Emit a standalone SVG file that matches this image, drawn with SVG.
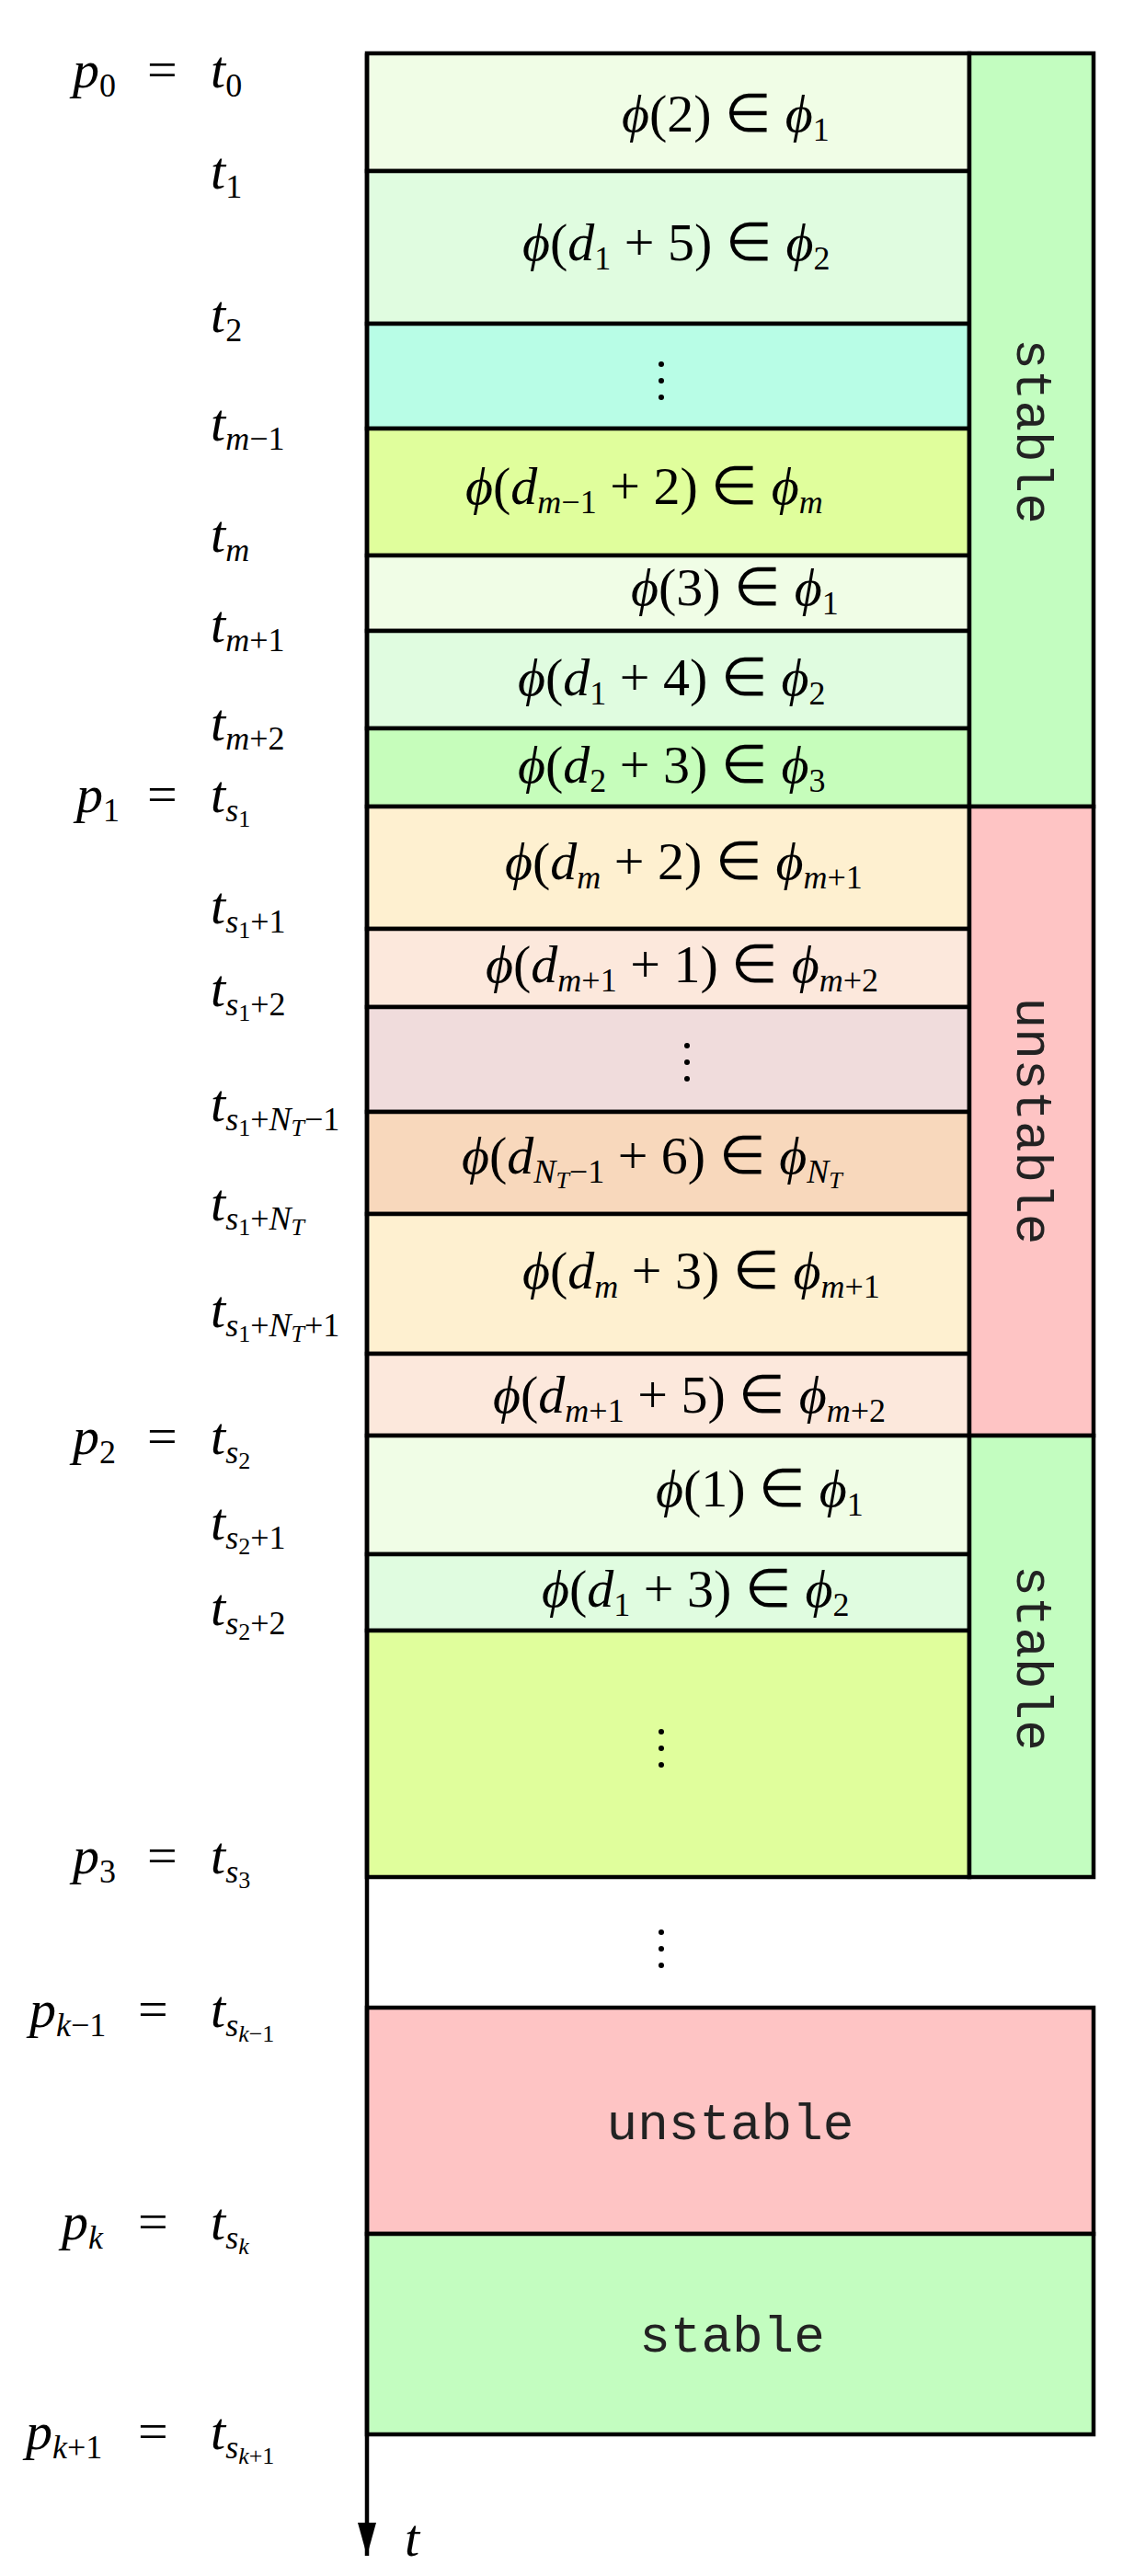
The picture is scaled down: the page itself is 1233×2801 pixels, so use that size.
<svg xmlns="http://www.w3.org/2000/svg" width="1233" height="2801" viewBox="0 0 1233 2801">
<style>
.b{stroke:#000;stroke-width:4.5}
text{font-family:"Liberation Serif","Times New Roman",serif;font-size:58px;fill:#000}
.i{font-style:italic}
.s{font-size:36px}
.ss{font-size:26px}
.w{font-family:"Liberation Mono","DejaVu Sans Mono",monospace;font-size:56px;fill:#222}
.dot{fill:#000}
</style>
<defs><marker id="ar" markerWidth="36" markerHeight="20" refX="36" refY="10" orient="auto" markerUnits="userSpaceOnUse"><path d="M0,0 L36,10 L0,20 Z" fill="#000"/></marker></defs>
<g id="rows" class="b">
<rect x="399" y="58" width="655" height="128" fill="#f0fde6"/>
<rect x="399" y="186" width="655" height="166" fill="#e0fce0"/>
<rect x="399" y="352" width="655" height="114" fill="#b8fde6"/>
<rect x="399" y="466" width="655" height="138" fill="#e0fe9c"/>
<rect x="399" y="604" width="655" height="82" fill="#f0fde6"/>
<rect x="399" y="686" width="655" height="106" fill="#e0fce0"/>
<rect x="399" y="792" width="655" height="85" fill="#c6fdbb"/>
<rect x="399" y="877" width="655" height="133" fill="#fef0d0"/>
<rect x="399" y="1010" width="655" height="85" fill="#fce8dc"/>
<rect x="399" y="1095" width="655" height="114" fill="#f0dcdc"/>
<rect x="399" y="1209" width="655" height="111" fill="#f8d8bc"/>
<rect x="399" y="1320" width="655" height="152" fill="#fef0d0"/>
<rect x="399" y="1472" width="655" height="89" fill="#fce8dc"/>
<rect x="399" y="1561" width="655" height="129" fill="#f0fde6"/>
<rect x="399" y="1690" width="655" height="83" fill="#e0fce0"/>
<rect x="399" y="1773" width="655" height="268" fill="#e0fe9c"/>
<rect x="1054" y="58" width="135" height="819" fill="#c3fdc0"/>
<rect x="1054" y="877" width="135" height="684" fill="#fec4c4"/>
<rect x="1054" y="1561" width="135" height="480" fill="#c3fdc0"/>
<rect x="399" y="2183" width="790" height="246" fill="#fec4c4"/>
<rect x="399" y="2429" width="790" height="218" fill="#c3fdc0"/>
</g>
<g id="connectors">
<line x1="399" y1="58" x2="399" y2="2779" stroke="#000" stroke-width="4.5" marker-end="url(#ar)"/>
</g>
<g id="dots" class="dot">
<circle cx="719" cy="396" r="3"/><circle cx="719" cy="414" r="3"/><circle cx="719" cy="432" r="3"/>
<circle cx="747" cy="1137" r="3"/><circle cx="747" cy="1155" r="3"/><circle cx="747" cy="1173" r="3"/>
<circle cx="719" cy="1883" r="3"/><circle cx="719" cy="1901" r="3"/><circle cx="719" cy="1919" r="3"/>
<circle cx="719" cy="2101" r="3"/><circle cx="719" cy="2119" r="3"/><circle cx="719" cy="2137" r="3"/>
</g>
<g id="labels">
<text x="1121" y="469" class="w" text-anchor="middle" dominant-baseline="middle" transform="rotate(90 1121 469)">stable</text>
<text x="1121" y="1219" class="w" text-anchor="middle" dominant-baseline="middle" transform="rotate(90 1121 1219)">unstable</text>
<text x="1121" y="1803" class="w" text-anchor="middle" dominant-baseline="middle" transform="rotate(90 1121 1803)">stable</text>
<text x="794" y="2326" class="w" text-anchor="middle">unstable</text>
<text x="796" y="2557" class="w" text-anchor="middle">stable</text>
<text x="440" y="2779" class="i" font-size="62">t</text>

<text x="676" y="143"><tspan class="i">ϕ</tspan>(2) ∈ <tspan class="i">ϕ</tspan><tspan class="s" dy="10">1</tspan></text>
<text x="568" y="283"><tspan class="i">ϕ</tspan>(<tspan class="i">d</tspan><tspan class="s" dy="10">1</tspan><tspan dy="-10"> + 5) ∈ </tspan><tspan class="i">ϕ</tspan><tspan class="s" dy="10">2</tspan></text>
<text x="506" y="548"><tspan class="i">ϕ</tspan>(<tspan class="i">d</tspan><tspan class="s i" dy="10">m</tspan><tspan class="s">−1</tspan><tspan dy="-10"> + 2) ∈ </tspan><tspan class="i">ϕ</tspan><tspan class="s i" dy="10">m</tspan></text>
<text x="686" y="658"><tspan class="i">ϕ</tspan>(3) ∈ <tspan class="i">ϕ</tspan><tspan class="s" dy="10">1</tspan></text>
<text x="563" y="756"><tspan class="i">ϕ</tspan>(<tspan class="i">d</tspan><tspan class="s" dy="10">1</tspan><tspan dy="-10"> + 4) ∈ </tspan><tspan class="i">ϕ</tspan><tspan class="s" dy="10">2</tspan></text>
<text x="563" y="851"><tspan class="i">ϕ</tspan>(<tspan class="i">d</tspan><tspan class="s" dy="10">2</tspan><tspan dy="-10"> + 3) ∈ </tspan><tspan class="i">ϕ</tspan><tspan class="s" dy="10">3</tspan></text>
<text x="549" y="956"><tspan class="i">ϕ</tspan>(<tspan class="i">d</tspan><tspan class="s i" dy="10">m</tspan><tspan dy="-10"> + 2) ∈ </tspan><tspan class="i">ϕ</tspan><tspan class="s i" dy="10">m</tspan><tspan class="s">+1</tspan></text>
<text x="528" y="1068"><tspan class="i">ϕ</tspan>(<tspan class="i">d</tspan><tspan class="s i" dy="10">m</tspan><tspan class="s">+1</tspan><tspan dy="-10"> + 1) ∈ </tspan><tspan class="i">ϕ</tspan><tspan class="s i" dy="10">m</tspan><tspan class="s">+2</tspan></text>
<text x="502" y="1276"><tspan class="i">ϕ</tspan>(<tspan class="i">d</tspan><tspan class="s i" dy="10">N</tspan><tspan class="ss i" dy="6">T</tspan><tspan class="s" dy="-6">−1</tspan><tspan dy="-10"> + 6) ∈ </tspan><tspan class="i">ϕ</tspan><tspan class="s i" dy="10">N</tspan><tspan class="ss i" dy="6">T</tspan></text>
<text x="568" y="1401"><tspan class="i">ϕ</tspan>(<tspan class="i">d</tspan><tspan class="s i" dy="10">m</tspan><tspan dy="-10"> + 3) ∈ </tspan><tspan class="i">ϕ</tspan><tspan class="s i" dy="10">m</tspan><tspan class="s">+1</tspan></text>
<text x="536" y="1536"><tspan class="i">ϕ</tspan>(<tspan class="i">d</tspan><tspan class="s i" dy="10">m</tspan><tspan class="s">+1</tspan><tspan dy="-10"> + 5) ∈ </tspan><tspan class="i">ϕ</tspan><tspan class="s i" dy="10">m</tspan><tspan class="s">+2</tspan></text>
<text x="713" y="1638"><tspan class="i">ϕ</tspan>(1) ∈ <tspan class="i">ϕ</tspan><tspan class="s" dy="10">1</tspan></text>
<text x="589" y="1747"><tspan class="i">ϕ</tspan>(<tspan class="i">d</tspan><tspan class="s" dy="10">1</tspan><tspan dy="-10"> + 3) ∈ </tspan><tspan class="i">ϕ</tspan><tspan class="s" dy="10">2</tspan></text>

<text x="79" y="95"><tspan class="i">p</tspan><tspan class="s" dy="10">0</tspan></text><text x="160" y="95">=</text>
<text x="229" y="95"><tspan class="i">t</tspan><tspan class="s" dy="10">0</tspan></text>
<text x="229" y="205"><tspan class="i">t</tspan><tspan class="s" dy="10">1</tspan></text>
<text x="229" y="361"><tspan class="i">t</tspan><tspan class="s" dy="10">2</tspan></text>
<text x="229" y="479"><tspan class="i">t</tspan><tspan class="s i" dy="10">m</tspan><tspan class="s">−1</tspan></text>
<text x="229" y="600"><tspan class="i">t</tspan><tspan class="s i" dy="10">m</tspan></text>
<text x="229" y="698"><tspan class="i">t</tspan><tspan class="s i" dy="10">m</tspan><tspan class="s">+1</tspan></text>
<text x="229" y="805"><tspan class="i">t</tspan><tspan class="s i" dy="10">m</tspan><tspan class="s">+2</tspan></text>
<text x="83" y="883"><tspan class="i">p</tspan><tspan class="s" dy="10">1</tspan></text><text x="160" y="883">=</text>
<text x="229" y="883"><tspan class="i">t</tspan><tspan class="s i" dy="10">s</tspan><tspan class="ss" dy="6">1</tspan></text>
<text x="229" y="1004"><tspan class="i">t</tspan><tspan class="s i" dy="10">s</tspan><tspan class="ss" dy="6">1</tspan><tspan class="s" dy="-6">+1</tspan></text>
<text x="229" y="1094"><tspan class="i">t</tspan><tspan class="s i" dy="10">s</tspan><tspan class="ss" dy="6">1</tspan><tspan class="s" dy="-6">+2</tspan></text>
<text x="229" y="1219"><tspan class="i">t</tspan><tspan class="s i" dy="10">s</tspan><tspan class="ss" dy="6">1</tspan><tspan class="s" dy="-6">+</tspan><tspan class="s i">N</tspan><tspan class="ss i" dy="6">T</tspan><tspan class="s" dy="-6">−1</tspan></text>
<text x="229" y="1327"><tspan class="i">t</tspan><tspan class="s i" dy="10">s</tspan><tspan class="ss" dy="6">1</tspan><tspan class="s" dy="-6">+</tspan><tspan class="s i">N</tspan><tspan class="ss i" dy="6">T</tspan></text>
<text x="229" y="1443"><tspan class="i">t</tspan><tspan class="s i" dy="10">s</tspan><tspan class="ss" dy="6">1</tspan><tspan class="s" dy="-6">+</tspan><tspan class="s i">N</tspan><tspan class="ss i" dy="6">T</tspan><tspan class="s" dy="-6">+1</tspan></text>
<text x="79" y="1581"><tspan class="i">p</tspan><tspan class="s" dy="10">2</tspan></text><text x="160" y="1581">=</text>
<text x="229" y="1581"><tspan class="i">t</tspan><tspan class="s i" dy="10">s</tspan><tspan class="ss" dy="6">2</tspan></text>
<text x="229" y="1674"><tspan class="i">t</tspan><tspan class="s i" dy="10">s</tspan><tspan class="ss" dy="6">2</tspan><tspan class="s" dy="-6">+1</tspan></text>
<text x="229" y="1767"><tspan class="i">t</tspan><tspan class="s i" dy="10">s</tspan><tspan class="ss" dy="6">2</tspan><tspan class="s" dy="-6">+2</tspan></text>
<text x="79" y="2037"><tspan class="i">p</tspan><tspan class="s" dy="10">3</tspan></text><text x="160" y="2037">=</text>
<text x="229" y="2037"><tspan class="i">t</tspan><tspan class="s i" dy="10">s</tspan><tspan class="ss" dy="6">3</tspan></text>
<text x="32" y="2204"><tspan class="i">p</tspan><tspan class="s i" dy="10">k</tspan><tspan class="s">−1</tspan></text><text x="150" y="2204">=</text>
<text x="229" y="2204"><tspan class="i">t</tspan><tspan class="s i" dy="10">s</tspan><tspan class="ss i" dy="6">k</tspan><tspan class="ss">−1</tspan></text>
<text x="67" y="2435"><tspan class="i">p</tspan><tspan class="s i" dy="10">k</tspan></text><text x="150" y="2435">=</text>
<text x="229" y="2435"><tspan class="i">t</tspan><tspan class="s i" dy="10">s</tspan><tspan class="ss i" dy="6">k</tspan></text>
<text x="28" y="2663"><tspan class="i">p</tspan><tspan class="s i" dy="10">k</tspan><tspan class="s">+1</tspan></text><text x="150" y="2663">=</text>
<text x="229" y="2663"><tspan class="i">t</tspan><tspan class="s i" dy="10">s</tspan><tspan class="ss i" dy="6">k</tspan><tspan class="ss">+1</tspan></text>
</g>
</svg>
